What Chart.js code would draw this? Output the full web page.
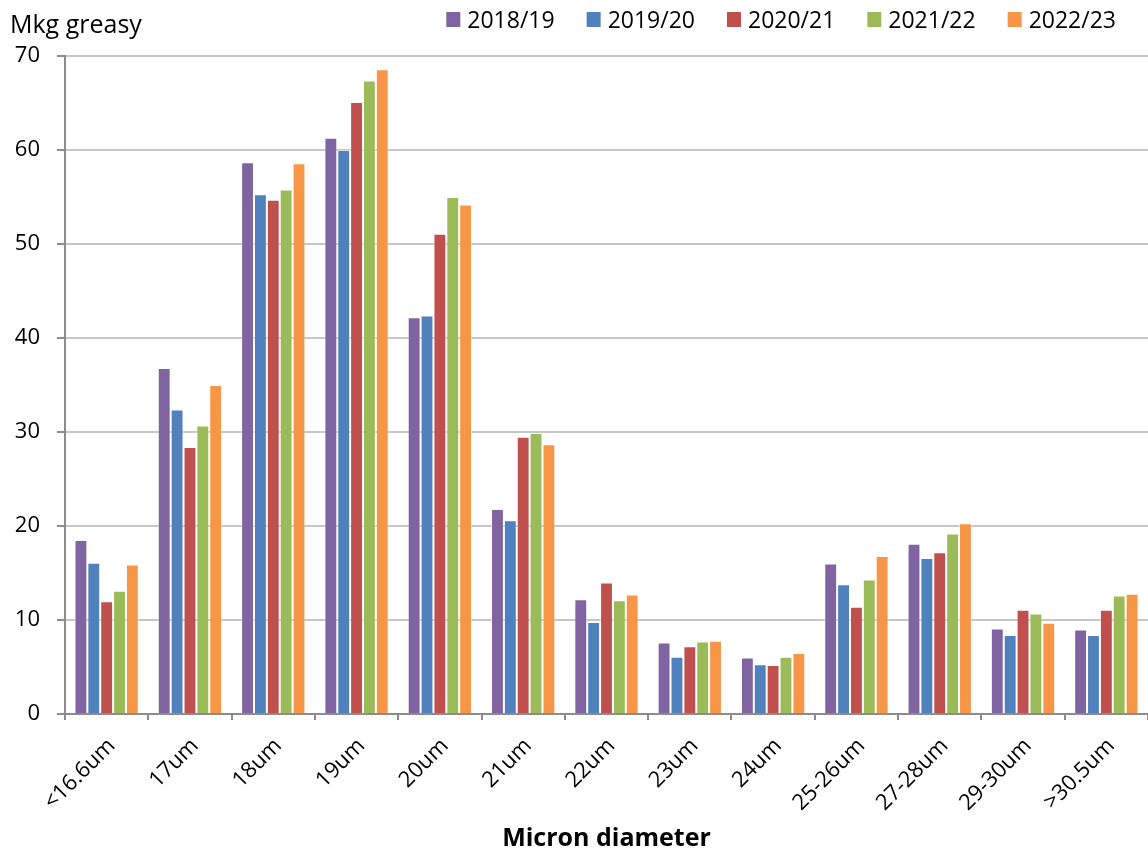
<!DOCTYPE html>
<html>
<head>
<meta charset="utf-8">
<script src="https://cdn.jsdelivr.net/npm/chart.js@4.4.1/dist/chart.umd.min.js"></script>
<style>
  html, body { margin: 0; padding: 0; background: #fff; }
  #wrap { width: 1148px; height: 855px; }
</style>
</head>
<body>
<div id="wrap"><canvas id="c" width="1148" height="855"></canvas></div>
<script>
// Wool production by fibre diameter, million kg greasy, five seasons
const categories = ['<16.6um', '17um', '18um', '19um', '20um', '21um', '22um', '23um', '24um', '25-26um', '27-28um', '29-30um', '>30.5um'];
const seasons = ['2018/19', '2019/20', '2020/21', '2021/22', '2022/23'];

const season1819 = [18.5, 36.8, 58.7, 61.3, 42.2, 21.8, 12.2, 7.6, 6.0, 16.0, 18.1, 9.1, 9.0];
const season1920 = [16.1, 32.4, 55.3, 60.0, 42.4, 20.6, 9.8, 6.1, 5.3, 13.8, 16.6, 8.4, 8.4];
const season2021 = [12.0, 28.4, 54.7, 65.1, 51.1, 29.5, 14.0, 7.2, 5.2, 11.4, 17.2, 11.1, 11.1];
const season2122 = [13.1, 30.7, 55.8, 67.4, 55.0, 29.9, 12.1, 7.7, 6.1, 14.3, 19.2, 10.7, 12.6];
const season2223 = [15.9, 35.0, 58.6, 68.6, 54.2, 28.7, 12.7, 7.8, 6.5, 16.8, 20.3, 9.7, 12.8];

const yTickValues = [0, 10, 20, 30, 40, 50, 60, 70];
const unitLabel = 'Mkg greasy';
const axisTitle = 'Micron diameter';

const seriesColors = ['#8064A2', '#4F81BD', '#C0504D', '#9BBB59', '#F79646'];
const seriesValues = [season1819, season1920, season2021, season2122, season2223];

const FONT = '"Open Sans", Lato, sans-serif';

// Unit caption at top left and a single-row legend at top right
const headerPlugin = {
  id: 'header',
  afterDraw(chart) {
    const ctx = chart.ctx;
    ctx.save();
    ctx.fillStyle = '#000';
    ctx.textAlign = 'left';
    ctx.textBaseline = 'alphabetic';
    ctx.font = '25px ' + FONT;
    ctx.fillText(unitLabel, 10, 33);

    ctx.font = '23px ' + FONT;
    const box = 14, gap = 7, spacing = 32;
    const items = chart.data.datasets.map(d => ({
      text: d.label,
      color: d.backgroundColor,
      w: ctx.measureText(d.label).width
    }));
    const total = items.reduce((s, it) => s + box + gap + it.w, 0) + spacing * (items.length - 1);
    let x = 1116 - total;
    items.forEach(it => {
      ctx.fillStyle = it.color;
      ctx.fillRect(x, 12, box, 15);
      ctx.fillStyle = '#000';
      ctx.fillText(it.text, x + box + gap, 28);
      x += box + gap + it.w + spacing;
    });
    ctx.restore();
  }
};

new Chart(document.getElementById('c'), {
  type: 'bar',
  data: {
    labels: categories,
    datasets: seasons.map((name, i) => ({
      label: name,
      data: seriesValues[i],
      backgroundColor: seriesColors[i],
      borderColor: 'rgba(255,255,255,0.45)',
      borderWidth: 1,
      categoryPercentage: 0.772,
      barPercentage: 1.0
    }))
  },
  options: {
    responsive: false,
    devicePixelRatio: 1,
    animation: false,
    layout: { padding: { top: 56, right: 0, bottom: 0, left: 0 } },
    plugins: {
      legend: { display: false },
      title: { display: false },
      tooltip: { enabled: false }
    },
    scales: {
      x: {
        offset: true,
        grid: {
          display: true,
          drawOnChartArea: false,
          drawTicks: true,
          tickLength: 6,
          color: '#8c8c8c',
          lineWidth: 2
        },
        border: { display: true, color: '#8c8c8c', width: 2 },
        ticks: {
          minRotation: 45,
          maxRotation: 45,
          autoSkip: false,
          padding: 13,
          labelOffset: 5,
          color: '#000',
          font: { family: FONT, size: 22 }
        },
        title: {
          display: true,
          text: axisTitle,
          color: '#000',
          font: { family: FONT, size: 25, weight: 'bold' },
          padding: { top: 0, bottom: 1 }
        },
        afterFit(scale) { scale.height = 141; }
      },
      y: {
        min: yTickValues[0],
        max: yTickValues[yTickValues.length - 1],
        afterBuildTicks(scale) { scale.ticks = yTickValues.map(v => ({ value: v })); },
        grid: {
          color: '#c6c6c6',
          lineWidth: 2,
          tickLength: 8,
          tickColor: '#8c8c8c'
        },
        border: { display: true, color: '#8c8c8c', width: 2 },
        ticks: {
          padding: 17,
          color: '#000',
          font: { family: FONT, size: 22 }
        },
        afterFit(scale) { scale.width = 65; }
      }
    }
  },
  plugins: [headerPlugin]
});
</script>
</body>
</html>
